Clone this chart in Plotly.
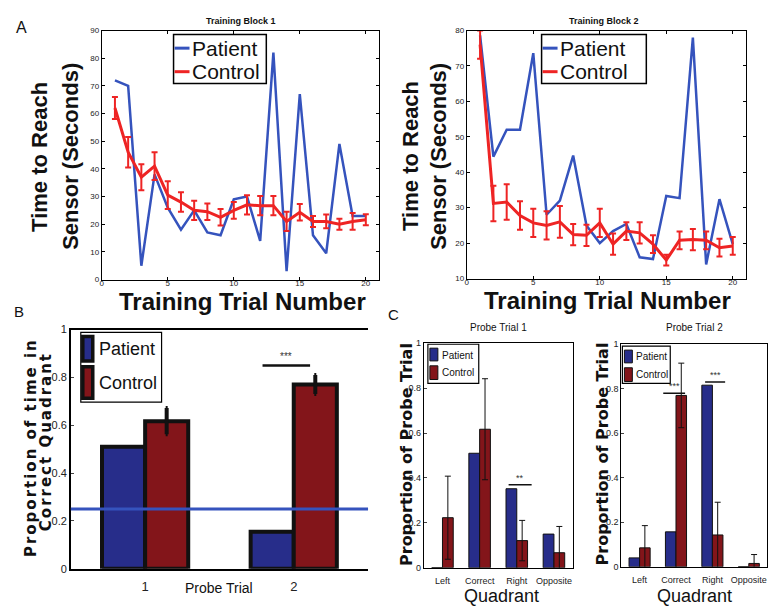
import plotly.graph_objects as go

W, H = 768, 612

def px(p):
    return p / W

def py(p):
    return 1 - p / H

# ---------------- data ----------------
trials = list(range(1, 21))
block1_patient = [72, 70, 5, 38, 26, 18, 25, 17, 16, 29, 30, 14, 82, 3, 67, 16, 9.5, 49, 23, 23]
block1_control = [62, 46, 37, 41, 30.5, 28, 25, 24.5, 22.5, 25, 27, 26.7, 26.7, 21, 24.3, 21, 21, 20, 21, 21.6]
block1_control_err = [4, 5.5, 4.7, 5, 5, 3.5, 3.5, 3, 3, 3, 3.5, 3.5, 3.5, 3.5, 3, 2, 2.5, 2, 3, 2]

block2_patient = [78.6, 44.4, 52, 52, 73.6, 28, 32, 44.7, 25, 20, 23.4, 25.4, 16, 15.5, 33.3, 32.7, 78, 14, 32.4, 19.7]
block2_control = [76, 31.2, 31.6, 27.8, 25.7, 25, 26, 22.4, 22.2, 25.7, 19.7, 23.4, 22.9, 19.7, 15.2, 20.8, 21, 20.8, 18.7, 19.2]
block2_control_err = [4, 5, 5, 4, 4, 4, 4.5, 3, 3, 4, 3, 2.5, 3, 2.5, 1.5, 2.5, 3, 2.5, 2.5, 2.5]

probe_trials = [1, 2]
b_patient = [0.51, 0.155]
b_control = [0.617, 0.77]
b_control_err = [0.055, 0.04]
chance_level = 0.25

quadrants = ["Left", "Correct", "Right", "Opposite"]
quad_pos = [1, 2, 3, 4]
c1_patient = [0, 0.51, 0.352, 0.15]
c1_control = [0.223, 0.617, 0.121, 0.067]
c1_control_err = [0.185, 0.225, 0.09, 0.117]
c2_patient = [0.04, 0.157, 0.816, 0]
c2_control = [0.085, 0.77, 0.143, 0.015]
c2_control_err = [0.10, 0.145, 0.147, 0.04]

# ---------------- styles ----------------
ARIAL = "Liberation Sans, Arial, sans-serif"
NARROW = "Liberation Sans Narrow, Arial Narrow, Liberation Sans, Arial, sans-serif"
WIDE = "DejaVu Sans, Verdana, sans-serif"
LINE_BLUE = "#3553BD"
LINE_RED = "#EE2424"
BAR_BLUE = "#272D8A"
BAR_RED = "#83151A"

fig = go.Figure()

# ---- Panel A1 ----
fig.add_trace(go.Scatter(x=trials, y=block1_patient, mode="lines",
                         line=dict(color=LINE_BLUE, width=2.5), xaxis="x", yaxis="y"))
fig.add_trace(go.Scatter(x=trials, y=block1_control, mode="lines",
                         line=dict(color=LINE_RED, width=3),
                         error_y=dict(type="data", array=block1_control_err, color=LINE_RED,
                                      thickness=2, width=3),
                         xaxis="x", yaxis="y"))
# ---- Panel A2 ----
fig.add_trace(go.Scatter(x=trials, y=block2_patient, mode="lines",
                         line=dict(color=LINE_BLUE, width=2.5), xaxis="x2", yaxis="y2"))
fig.add_trace(go.Scatter(x=trials, y=block2_control, mode="lines",
                         line=dict(color=LINE_RED, width=3),
                         error_y=dict(type="data", array=block2_control_err, color=LINE_RED,
                                      thickness=2, width=3),
                         xaxis="x2", yaxis="y2"))
# ---- Panel B ----
fig.add_trace(go.Bar(x=probe_trials, y=b_patient, marker=dict(color=BAR_BLUE, line=dict(color="#111", width=4)),
                     xaxis="x3", yaxis="y3", offsetgroup="p"))
fig.add_trace(go.Bar(x=probe_trials, y=b_control, marker=dict(color=BAR_RED, line=dict(color="#111", width=4)),
                     error_y=dict(type="data", array=b_control_err, color="#111", thickness=4, width=1),
                     xaxis="x3", yaxis="y3", offsetgroup="c"))
# ---- Panel C1 ----
fig.add_trace(go.Bar(x=quad_pos, y=c1_patient, marker=dict(color=BAR_BLUE, line=dict(color="#111", width=1)),
                     xaxis="x4", yaxis="y4", offsetgroup="p"))
fig.add_trace(go.Bar(x=quad_pos, y=c1_control, marker=dict(color=BAR_RED, line=dict(color="#111", width=1)),
                     error_y=dict(type="data", array=c1_control_err, color="#111", thickness=1, width=3),
                     xaxis="x4", yaxis="y4", offsetgroup="c"))
# ---- Panel C2 ----
fig.add_trace(go.Bar(x=quad_pos, y=c2_patient, marker=dict(color=BAR_BLUE, line=dict(color="#111", width=1)),
                     xaxis="x5", yaxis="y5", offsetgroup="p"))
fig.add_trace(go.Bar(x=quad_pos, y=c2_control, marker=dict(color=BAR_RED, line=dict(color="#111", width=1)),
                     error_y=dict(type="data", array=c2_control_err, color="#111", thickness=1, width=3),
                     xaxis="x5", yaxis="y5", offsetgroup="c"))

tickA = dict(family=ARIAL, size=8, color="#222")
axA = dict(showline=True, linecolor="black", linewidth=1, mirror="ticks", ticks="inside",
           ticklen=3, tickcolor="black", showgrid=False, zeroline=False, tickfont=tickA)
tickC = dict(family=NARROW, size=9, color="#222")
axC = dict(showline=True, linecolor="black", linewidth=1, mirror=True, showgrid=False,
           zeroline=False, tickfont=tickC)

fig.update_layout(
    width=W, height=H, margin=dict(l=0, r=0, t=0, b=0),
    paper_bgcolor="white", plot_bgcolor="white", showlegend=False,
    barmode="group", bargap=0.42, bargroupgap=0,
    xaxis=dict(axA, domain=[px(100), px(378)], range=[0, 21], tickvals=[0, 5, 10, 15, 20],
               ticklabelstandoff=-4, anchor="y"),
    yaxis=dict(axA, domain=[py(279), py(25)], range=[0, 90], dtick=10, anchor="x"),
    xaxis2=dict(axA, domain=[px(466), px(746)], range=[0, 21], tickvals=[0, 5, 10, 15, 20],
                ticklabelstandoff=-4, anchor="y2"),
    yaxis2=dict(axA, domain=[py(278), py(25)], range=[10, 80], dtick=10, anchor="x2"),
    xaxis3=dict(showline=True, linecolor="black", linewidth=1.5, mirror=True, showgrid=False, zeroline=False,
                domain=[px(69), px(367)], range=[0.5, 2.5], tickvals=probe_trials, ticks="",
                ticklabelstandoff=5,
                tickfont=dict(family=NARROW, size=13, color="#222"), anchor="y3"),
    yaxis3=dict(showline=True, linecolor="black", linewidth=1.5, showgrid=False, zeroline=False,
                domain=[py(574), py(330)], range=[0, 1], dtick=0.2, ticks="inside", ticklen=3,
                tickfont=dict(family=NARROW, size=11, color="#222"), anchor="x3"),
    xaxis4=dict(axC, domain=[px(423), px(572)], range=[0.5, 4.5], tickvals=quad_pos, ticktext=quadrants,
                ticks="", ticklabelstandoff=4, anchor="y4"),
    yaxis4=dict(axC, domain=[py(573), py(344)], range=[0, 1], dtick=0.2, ticks="inside", ticklen=3, anchor="x4"),
    xaxis5=dict(axC, domain=[px(621), px(767)], range=[0.5, 4.5], tickvals=quad_pos, ticktext=quadrants,
                ticks="", ticklabelstandoff=4, anchor="y5"),
    yaxis5=dict(axC, domain=[py(572), py(345)], range=[0, 1], dtick=0.2, ticks="inside", ticklen=3, anchor="x5"),
)

shapes = []
ann = []

def text(x, y, s, size, family=ARIAL, angle=0, xanchor="center", yanchor="middle", color="#111", **kw):
    ann.append(dict(x=px(x), y=py(y), xref="paper", yref="paper", text=s, showarrow=False,
                    textangle=angle, xanchor=xanchor, yanchor=yanchor,
                    font=dict(family=family, size=size, color=color), **kw))

def rect(x0, y0, x1, y1, fill="rgba(0,0,0,0)", lc="black", lw=1.2):
    shapes.append(dict(type="rect", xref="paper", yref="paper", x0=px(x0), x1=px(x1), y0=py(y0), y1=py(y1),
                       fillcolor=fill, line=dict(color=lc, width=lw)))

def hline(x0, x1, y, color, lw):
    shapes.append(dict(type="line", xref="paper", yref="paper", x0=px(x0), x1=px(x1), y0=py(y), y1=py(y),
                       line=dict(color=color, width=lw)))

# Panel letters
text(20, 22, "A", 16)
text(17, 312, "B", 15)
text(393, 315, "C", 15)

# A titles
text(240, 15, "<b>Training Block 1</b>", 9)
text(604, 15, "<b>Training Block 2</b>", 9)
text(38, 154, "<b>Time to Reach</b>", 22, angle=-90)
text(68, 153, "<b>Sensor (Seconds)</b>", 22, angle=-90)
text(409, 153, "<b>Time to Reach</b>", 22, angle=-90)
text(437, 153, "<b>Sensor (Seconds)</b>", 22, angle=-90)
text(241, 301, "<b>Training Trial Number</b>", 24)
text(607, 300, "<b>Training Trial Number</b>", 24)

# A legends
for (bx0, bx1) in [(172, 265), (541, 646)]:
    rect(bx0, 29, bx1, 79, fill="white", lw=1.5)
    hline(bx0 + 1, bx0 + 16, 43, LINE_BLUE, 3)
    hline(bx0 + 1, bx0 + 16, 67, LINE_RED, 3)
    text(bx0 + 16, 43, "Patient", 21, xanchor="left")
    text(bx0 + 16, 67, "Control", 21, xanchor="left")

# B texts
text(29, 450, "<b><span style='letter-spacing:2px'>Proportion of time in</span></b>", 15, family=WIDE, angle=-90)
text(44, 444, "<b><span style='letter-spacing:2px'>Correct Quadrant</span></b>", 15, family=WIDE, angle=-90)
text(218, 594, "Probe Trial", 14, family=NARROW)
rect(79, 333, 160, 404, fill="white", lw=1.2)
rect(81, 337, 91, 362, fill=BAR_BLUE, lc="#111", lw=3.5)
rect(81, 368, 91, 400, fill=BAR_RED, lc="#111", lw=3.5)
text(95, 350, "Patient", 18, family=NARROW, xanchor="left")
text(95, 385, "Control", 18, family=NARROW, xanchor="left")
# chance line
shapes.append(dict(type="line", xref="x3 domain", yref="y3", x0=0, x1=1, y0=chance_level, y1=chance_level,
                   line=dict(color=LINE_BLUE, width=3)))
# significance B
shapes.append(dict(type="line", xref="x3", yref="y3", x0=1.79, x1=2.11, y0=0.85, y1=0.85,
                   line=dict(color="#111", width=2.5)))
ann.append(dict(x=1.95, y=0.855, xref="x3", yref="y3", text="***", showarrow=False, yanchor="bottom",
                font=dict(family=ARIAL, size=10, color="#333")))

# C texts
text(498, 328, "Probe Trial 1", 10, family=NARROW)
text(694, 328, "Probe Trial 2", 10, family=NARROW)
text(405, 457, "<b>Proportion of Probe Trial</b>", 16, family=WIDE, angle=-90)
text(602, 457, "<b>Proportion of Probe Trial</b>", 16, family=WIDE, angle=-90)
text(501, 602, "Quadrant", 18, family=NARROW)
text(694, 602, "Quadrant", 18, family=NARROW)

# C legends
for (bx0, bx1, by0, by1) in [(427, 478, 345, 385), (622, 670, 347, 385)]:
    rect(bx0, by0, bx1, by1, fill="white", lw=1.2)
    rect(bx0 + 2, by0 + 4, bx0 + 10, by0 + 17, fill=BAR_BLUE, lc="#111", lw=1)
    rect(bx0 + 2, by0 + 22, bx0 + 10, by0 + 36, fill=BAR_RED, lc="#111", lw=1)
    text(bx0 + 12, by0 + 11, "Patient", 10, family=NARROW, xanchor="left")
    text(bx0 + 12, by0 + 29, "Control", 10, family=NARROW, xanchor="left")

# C significance
for (xa, ya, x0, x1, y, s) in [("x4", "y4", 2.78, 3.40, 0.37, "**"),
                               ("x5", "y5", 1.65, 2.25, 0.78, "***"),
                               ("x5", "y5", 2.80, 3.35, 0.83, "***")]:
    shapes.append(dict(type="line", xref=xa, yref=ya, x0=x0, x1=x1, y0=y, y1=y,
                       line=dict(color="#111", width=1.5)))
    ann.append(dict(x=(x0 + x1) / 2, y=y, xref=xa, yref=ya, text=s, showarrow=False, yanchor="bottom",
                    font=dict(family=ARIAL, size=9, color="#333")))

fig.update_layout(shapes=shapes, annotations=ann)
fig.write_html("out.html", config={"displayModeBar": False},
               post_script="document.body.style.margin='0';document.body.style.overflow='hidden';")
